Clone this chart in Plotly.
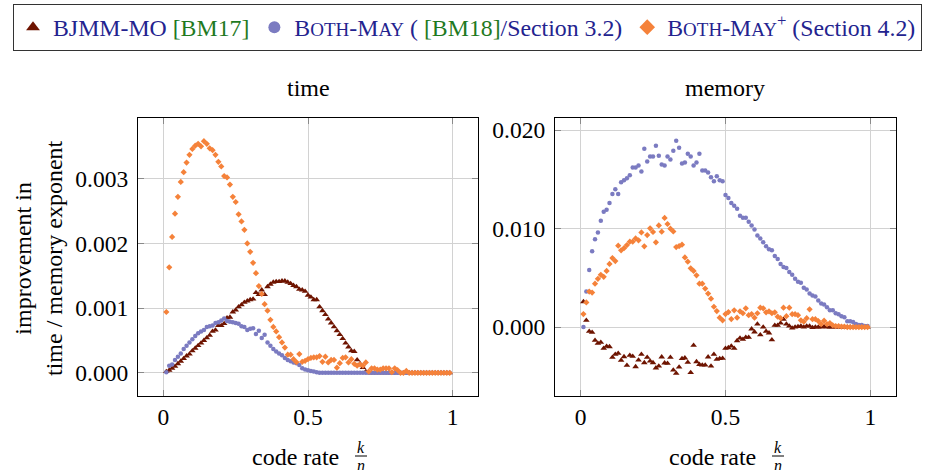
import plotly.graph_objects as go

# ---------------- data ----------------
code_rate = [0.01, 0.02, 0.03, 0.04, 0.05, 0.06, 0.07, 0.08, 0.09, 0.10,
             0.11, 0.12, 0.13, 0.14, 0.15, 0.16, 0.17, 0.18, 0.19, 0.20,
             0.21, 0.22, 0.23, 0.24, 0.25, 0.26, 0.27, 0.28, 0.29, 0.30,
             0.31, 0.32, 0.33, 0.34, 0.35, 0.36, 0.37, 0.38, 0.39, 0.40,
             0.41, 0.42, 0.43, 0.44, 0.45, 0.46, 0.47, 0.48, 0.49, 0.50,
             0.51, 0.52, 0.53, 0.54, 0.55, 0.56, 0.57, 0.58, 0.59, 0.60,
             0.61, 0.62, 0.63, 0.64, 0.65, 0.66, 0.67, 0.68, 0.69, 0.70,
             0.71, 0.72, 0.73, 0.74, 0.75, 0.76, 0.77, 0.78, 0.79, 0.80,
             0.81, 0.82, 0.83, 0.84, 0.85, 0.86, 0.87, 0.88, 0.89, 0.90,
             0.91, 0.92, 0.93, 0.94, 0.95, 0.96, 0.97, 0.98, 0.99]

# time improvement
time_bjmm = [0.00002, 0.00004, 0.00007, 0.00010, 0.00014, 0.00018, 0.00022, 0.00026, 0.00029, 0.00034,
             0.00038, 0.00042, 0.00046, 0.00050, 0.00054, 0.00058, 0.00064, 0.00066, 0.00073, 0.00073,
             0.00076, 0.00085, 0.00086, 0.00094, 0.00097, 0.00102, 0.00105, 0.00109, 0.00111, 0.00113,
             0.00114, 0.00124, 0.00121, 0.00128, 0.00121, 0.00133, 0.00137, 0.00140, 0.00141, 0.00141,
             0.00142, 0.00142, 0.00140, 0.00138, 0.00135, 0.00133, 0.00129, 0.00128, 0.00126, 0.00120,
             0.00117, 0.00113, 0.00113, 0.00102, 0.00096, 0.00090, 0.00083, 0.00077, 0.00071, 0.00065,
             0.00059, 0.00053, 0.00046, 0.00040, 0.00034, 0.00033, 0.00020, 0.00014, 0.00008, 0.00002,
             0.0, 0.0, 0.0, 0.0, 0.0, 0.0, 0.0, 0.0, 0.0, 0.0,
             0.0, 0.0, 0.0, 0.0, 0.0, 0.0, 0.0, 0.0, 0.0, 0.0,
             0.0, 0.0, 0.0, 0.0, 0.0, 0.0, 0.0, 0.0, 0.0]

time_bm = [0.00001, 0.00011, 0.00013, 0.00020, 0.00025, 0.00030, 0.00037, 0.00042, 0.00047, 0.00052,
           0.00057, 0.00061, 0.00064, 0.00066, 0.00071, 0.00072, 0.00073, 0.00077, 0.00078, 0.00081,
           0.00084, 0.00080, 0.00079, 0.00078, 0.00077, 0.00076, 0.00072, 0.00071, 0.00066, 0.00068,
           0.00069, 0.00060, 0.00065, 0.00054, 0.00059, 0.00047, 0.00042, 0.00037, 0.00033, 0.00030,
           0.00027, 0.00023, 0.00020, 0.00018, 0.00016, 0.00015, 0.00012, 0.00007, 0.00005, 0.00004,
           0.00003, 0.00002, 0.00001, 0.0, 0.0, 0.0, 0.0, 0.0, 0.0, 0.0,
           0.0, 0.0, 0.0, 0.0, 0.0, 0.0, 0.0, 0.0, 0.0, 0.0,
           0.0, 0.0, 0.0, 0.0, 0.0, 0.0, 0.0, 0.0, 0.0, 0.0,
           0.0, 0.0, 0.0, 0.0, 0.0, 0.0, 0.0, 0.0, 0.0, 0.0,
           0.0, 0.0, 0.0, 0.0, 0.0, 0.0, 0.0, 0.0, 0.0]

time_bmplus = [0.00094, 0.00163, 0.00210, 0.00246, 0.00272, 0.00295, 0.00310, 0.00325, 0.00337, 0.00346,
               0.00351, 0.00354, 0.00350, 0.00358, 0.00354, 0.00347, 0.00344, 0.00337, 0.00326, 0.00319,
               0.00304, 0.00302, 0.00291, 0.00272, 0.00264, 0.00245, 0.00234, 0.00221, 0.00200, 0.00187,
               0.00170, 0.00154, 0.00134, 0.00122, 0.00106, 0.00096, 0.00082, 0.00071, 0.00064, 0.00055,
               0.00047, 0.00039, 0.00028, 0.00028, 0.00021, 0.000165, 0.00029, 0.00017, 0.000185, 0.00021,
               0.00023, 0.00024, 0.00024, 0.00026, 0.00017, 0.00025, 0.00016, 0.00020, 0.00020, 0.00008,
               0.00015, 0.00023, 0.00024, 0.00016, 0.00021, 0.00014, 0.00011, 0.00013, 0.00011, 0.00016,
               0.00002, 0.00007, 0.00007, 0.00005, 0.00005, 0.00007, 0.00007, 0.00007, 0.00001, 0.00007,
               0.00004, 0.0, 0.0, 0.00003, 0.0, 0.0, 0.0, 0.0, 0.0, 0.0,
               0.0, 0.0, 0.0, 0.0, 0.0, 0.0, 0.0, 0.0, 0.0]

# memory improvement
mem_bjmm = [0.00257, 0.00068, -0.00044, -0.00054, -0.00135, -0.00166, -0.00156, -0.00217, -0.00196, -0.00200,
            -0.00308, -0.00277, -0.00267, -0.00338, -0.00301, -0.00389, -0.00287, -0.00298, -0.00403, -0.00335,
            -0.00277, -0.00362, -0.00308, -0.00345, -0.00362, -0.00416, -0.00396, -0.00304, -0.00365, -0.00369,
            -0.00308, -0.00437, -0.00470, -0.00406, -0.00320, -0.00314, -0.00359, -0.00463, -0.00186, -0.00352,
            -0.00380, -0.00386, -0.00386, -0.00304, -0.00396, -0.00277, -0.00328, -0.00321, -0.00318, -0.00217,
            -0.00210, -0.00193, -0.00217, -0.00139, -0.00112, -0.00125, -0.00105, -0.00105, -0.00020, -0.00050,
            0.00030, -0.00080, 0.00000, -0.00044, -0.00060, -0.00130, 0.00017, 0.00017, 0.00040, 0.00078,
            0.00030, 0.00010, -0.00010, 0.00000, 0.00005, 0.00010, 0.00000, 0.00010, 0.00010, -0.00005,
            0.0, 0.0, 0.0, 0.00005, 0.0, 0.0, 0.0, 0.0, 0.0, 0.0,
            0.0, 0.0, 0.0, 0.0, 0.0, 0.0, 0.0, 0.0, 0.0]

mem_bm = [0.0000, 0.0036, 0.0058, 0.0077, 0.0089, 0.0096, 0.0108, 0.0117, 0.0119, 0.0126,
          0.0135, 0.0140, 0.0135, 0.0147, 0.0149, 0.0151, 0.0154, 0.0162, 0.0162, 0.0164,
          0.0158, 0.0181, 0.0168, 0.0173, 0.0173, 0.0184, 0.0174, 0.0165, 0.0164, 0.0173,
          0.0170, 0.0179, 0.0189, 0.0182, 0.0166, 0.0167, 0.0176, 0.0173, 0.0164, 0.0167,
          0.0176, 0.0159, 0.0159, 0.0157, 0.0152, 0.0148, 0.0153, 0.0149, 0.0148, 0.0134,
          0.0131, 0.0126, 0.0123, 0.0120, 0.0113, 0.0111, 0.0111, 0.0107, 0.0103, 0.0099,
          0.0093, 0.0090, 0.0086, 0.0082, 0.0079, 0.0078, 0.0072, 0.0069, 0.0064, 0.0061,
          0.0060, 0.0056, 0.0053, 0.0049, 0.0046, 0.0045, 0.0040, 0.0038, 0.0034, 0.0032,
          0.0031, 0.0027, 0.0024, 0.0023, 0.0020, 0.0017, 0.0017, 0.0014, 0.0013, 0.0011,
          0.0010, 0.0006, 0.0006, 0.0005, 0.0003, 0.0002, 0.0002, 0.0001, 0.0001]

mem_bmplus = [0.00132, 0.00250, 0.00360, 0.00350, 0.00440, 0.00490, 0.00530, 0.00510, 0.00570, 0.00640,
              0.00700, 0.00670, 0.00826, 0.00779, 0.00800, 0.00832, 0.00866, 0.00866, 0.00900, 0.00880,
              0.00960, 0.00820, 0.00934, 0.01002, 0.00965, 0.00860, 0.01032, 0.00968, 0.01107, 0.01046,
              0.00998, 0.00970, 0.00812, 0.00822, 0.00836, 0.00707, 0.00663, 0.00596, 0.00569, 0.00525,
              0.00440, 0.00440, 0.00390, 0.00340, 0.00288, 0.00206, 0.00162, 0.00095, 0.00068, 0.00132,
              0.00152, 0.00081, 0.00170, 0.00095, 0.00160, 0.00140, 0.00190, 0.00120, 0.00132, 0.00095,
              0.00140, 0.00196, 0.00190, 0.00150, 0.00160, 0.00140, 0.00150, 0.00105, 0.00090, 0.00196,
              0.00110, 0.00196, 0.00130, 0.00130, 0.00120, 0.00068, 0.00054, 0.00090, 0.00180, 0.00080,
              0.00080, 0.00061, 0.00030, 0.00064, 0.00030, 0.00040, 0.00017, 0.00010, 0.00010, 0.00005,
              0.00005, 0.0, 0.0, 0.0, 0.0, 0.0, 0.0, 0.0, 0.0]

x_tick_vals = [0, 0.5, 1]
x_tick_text = ["0", "0.5", "1"]
time_tick_vals = [0.0, 0.001, 0.002, 0.003]
mem_tick_vals = [0.0, 0.01, 0.02]

# ---------------- style ----------------
FONT = "Liberation Serif"
C_BJMM = "#6e1400"
C_BM = "#7b7bc1"
C_BMP = "#f5823a"
NAVY = "#23238f"
GREEN = "#1f7a1f"
SC = "font-size:19px"

name_bjmm = f"BJMM-MO <span style='color:{GREEN}'>[BM17]</span>"
name_bm = (f"B<span style='{SC}'>OTH</span>-M<span style='{SC}'>AY</span> "
           f"( <span style='color:{GREEN}'>[BM18]</span>/Section 3.2)")
name_bmp = (f"B<span style='{SC}'>OTH</span>-M<span style='{SC}'>AY</span><sup>+</sup> "
            f"(Section 4.2)")

series = [
    ("bjmm", name_bjmm, time_bjmm, mem_bjmm, C_BJMM, "triangle-up", 5.8),
    ("bm", name_bm, time_bm, mem_bm, C_BM, "circle", 4.5),
    ("bmp", name_bmp, time_bmplus, mem_bmplus, C_BMP, "diamond", 4.8),
]

fig = go.Figure()
for key, name, ty, my, col, sym, sz in series:
    fig.add_trace(go.Scatter(x=code_rate, y=ty, mode="markers", name=name,
                             legendgroup=key, showlegend=True,
                             marker=dict(color=col, symbol=sym, size=sz, line=dict(width=0)),
                             xaxis="x", yaxis="y"))
    fig.add_trace(go.Scatter(x=code_rate, y=my, mode="markers", name=name,
                             legendgroup=key, showlegend=False,
                             marker=dict(color=col, symbol=sym, size=sz, line=dict(width=0)),
                             xaxis="x2", yaxis="y2"))

W, H = 935, 470

def px_x(p):
    return p / W

def px_y(p):
    return 1 - p / H

axis_common = dict(showline=True, linecolor="black", linewidth=1.2, mirror="allticks",
                   ticks="inside", ticklen=6, tickcolor="#8a8a8a", tickwidth=1.2,
                   showgrid=True, gridcolor="#d2d2d2", gridwidth=1, zeroline=False,
                   tickfont=dict(family=FONT, size=23.5, color="black"))

fig.update_layout(
    width=W, height=H,
    margin=dict(l=0, r=0, t=0, b=0),
    paper_bgcolor="white", plot_bgcolor="white",
    font=dict(family=FONT, size=23, color="black"),
    xaxis=dict(domain=[px_x(138), px_x(478)], range=[-0.088, 1.088],
               tickvals=x_tick_vals, ticktext=x_tick_text, anchor="y", **axis_common),
    yaxis=dict(domain=[px_y(396), px_y(118)], range=[-0.000358, 0.003938],
               tickvals=time_tick_vals, tickformat=".3f", anchor="x",
               ticklabelstandoff=4, **axis_common),
    xaxis2=dict(domain=[px_x(555), px_x(896)], range=[-0.088, 1.088],
                tickvals=x_tick_vals, ticktext=x_tick_text, anchor="y2", **axis_common),
    yaxis2=dict(domain=[px_y(396), px_y(118)], range=[-0.00700, 0.02122],
                tickvals=mem_tick_vals, tickformat=".3f", anchor="x2",
                ticklabelstandoff=4, **axis_common),
    legend=dict(orientation="h", x=0.5, xanchor="center", y=px_y(4), yanchor="top",
                bordercolor="#333333", borderwidth=1.2, bgcolor="white",
                itemsizing="constant", itemwidth=30,
                font=dict(family=FONT, size=23.8, color=NAVY)),
    showlegend=True,
)

ann = []
ann.append(dict(text="time", x=px_x(308), y=px_y(88), xref="paper", yref="paper",
                showarrow=False, xanchor="center", yanchor="middle",
                font=dict(family=FONT, size=24, color="black")))
ann.append(dict(text="memory", x=px_x(725), y=px_y(88), xref="paper", yref="paper",
                showarrow=False, xanchor="center", yanchor="middle",
                font=dict(family=FONT, size=24, color="black")))
ann.append(dict(text="improvement in<br>time / memory exponent", x=px_x(38), y=px_y(258),
                xref="paper", yref="paper", showarrow=False, textangle=-90,
                xanchor="center", yanchor="middle",
                font=dict(family=FONT, size=24, color="black")))
for off in (0, 417):
    ann.append(dict(text="code rate", x=px_x(295 + off), y=px_y(457), xref="paper", yref="paper",
                    showarrow=False, xanchor="center", yanchor="middle",
                    font=dict(family=FONT, size=24, color="black")))
    ann.append(dict(text="<i>k</i>", x=px_x(361 + off), y=px_y(447), xref="paper", yref="paper",
                    showarrow=False, xanchor="center", yanchor="middle",
                    font=dict(family=FONT, size=16, color="black")))
    ann.append(dict(text="<i>n</i>", x=px_x(361 + off), y=px_y(465), xref="paper", yref="paper",
                    showarrow=False, xanchor="center", yanchor="middle",
                    font=dict(family=FONT, size=16, color="black")))
    fig.add_shape(type="line", xref="paper", yref="paper",
                  x0=px_x(355 + off), x1=px_x(367 + off), y0=px_y(456), y1=px_y(456),
                  line=dict(color="black", width=1))
fig.update_layout(annotations=ann)

fig.write_html("out.html")
